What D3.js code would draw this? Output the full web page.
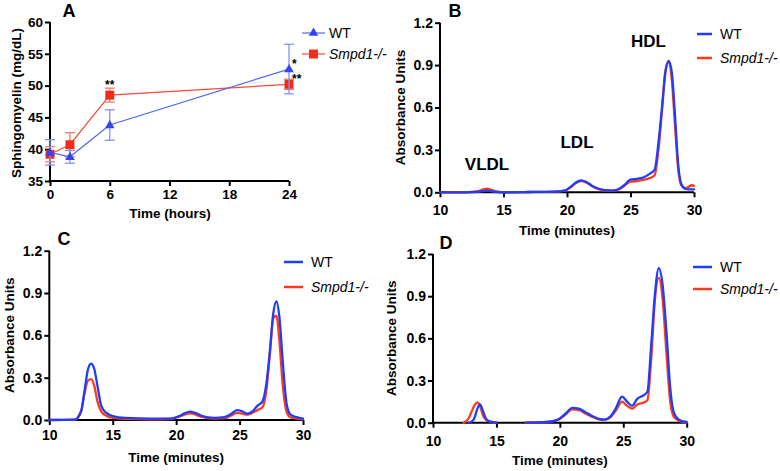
<!DOCTYPE html>
<html><head><meta charset="utf-8">
<script src="https://cdn.jsdelivr.net/npm/d3@7"></script>
<style>
body{margin:0;background:#fff;}
svg{display:block;font-family:"Liberation Sans",Arial,Helvetica,sans-serif;}
</style></head><body>
<svg id="c" width="780" height="471"></svg>
<script>
// ---------- Panel A data ----------
const aTimes = [0, 2, 6, 24];
const aWT = [39.5, 38.8, 43.8, 52.6];
const aWTerr = [2.0, 1.0, 2.4, 3.9];
const aKO = [39.2, 40.7, 48.5, 50.2];
const aKOerr = [1.2, 1.9, 1.1, 0.8];
const aXTicks = [0, 6, 12, 18, 24];
const aYTicks = [35, 40, 45, 50, 55, 60];
const sigTimes = [6, 24, 24];
const sigSeries = ["KO", "WT", "KO"];
const sigLabels = ["**", "*", "**"];

// ---------- Chromatogram data ----------
const chromXTicks = [10, 15, 20, 25, 30];
const chromYTicks = [0, 0.3, 0.6, 0.9, 1.2];

const bTimes = [10, 12, 13, 13.4, 13.7, 14, 14.5, 15, 17, 19, 19.8, 20.3, 20.7, 21.1, 21.5, 22, 22.5, 23, 23.5, 24, 24.5, 25, 25.5, 26, 26.5, 26.9, 27.2, 27.5, 27.75, 28, 28.25, 28.5, 28.75, 29, 29.3, 29.6, 29.8, 30];
const bWT = [0, 0, 0.003, 0.008, 0.012, 0.008, 0.002, 0, 0.002, 0.005, 0.012, 0.04, 0.07, 0.085, 0.075, 0.045, 0.025, 0.015, 0.012, 0.02, 0.05, 0.09, 0.095, 0.105, 0.13, 0.16, 0.35, 0.62, 0.85, 0.93, 0.85, 0.55, 0.2, 0.06, 0.025, 0.02, 0.02, 0.02];
const bKO = [0, 0, 0.008, 0.02, 0.025, 0.018, 0.005, 0, 0.002, 0.005, 0.012, 0.035, 0.065, 0.08, 0.07, 0.042, 0.022, 0.013, 0.012, 0.018, 0.045, 0.075, 0.08, 0.088, 0.1, 0.12, 0.3, 0.6, 0.86, 0.92, 0.8, 0.48, 0.17, 0.05, 0.03, 0.04, 0.05, 0.045];

const cTimes = [10, 12, 12.5, 12.8, 13.05, 13.3, 13.55, 13.8, 14.1, 14.5, 15, 16, 18, 19.5, 20.3, 20.7, 21.1, 21.5, 22, 23, 23.8, 24.3, 24.8, 25.2, 25.6, 26, 26.4, 26.8, 27.1, 27.4, 27.65, 27.9, 28.15, 28.4, 28.7, 29, 29.5, 30];
const cWT = [0, 0.002, 0.06, 0.22, 0.36, 0.40, 0.36, 0.24, 0.1, 0.05, 0.028, 0.015, 0.01, 0.01, 0.03, 0.05, 0.06, 0.05, 0.03, 0.015, 0.02, 0.04, 0.07, 0.062, 0.045, 0.06, 0.1, 0.13, 0.25, 0.5, 0.75, 0.84, 0.72, 0.42, 0.12, 0.04, 0.02, 0.01];
const cKO = [0, 0.002, 0.06, 0.2, 0.28, 0.29, 0.24, 0.13, 0.06, 0.03, 0.015, 0.008, 0.005, 0.007, 0.025, 0.04, 0.048, 0.04, 0.022, 0.01, 0.013, 0.03, 0.05, 0.045, 0.038, 0.05, 0.07, 0.09, 0.2, 0.48, 0.72, 0.74, 0.55, 0.25, 0.06, 0.02, 0.01, 0.005];

const dTimes = [10, 12.4, 12.8, 13.0, 13.25, 13.5, 13.7, 13.95, 14.2, 14.5, 15, 16, 17.3, 19, 19.8, 20.4, 21.0, 21.5, 22, 22.5, 23, 23.5, 24, 24.4, 24.9, 25.3, 25.7, 26.1, 26.5, 26.9, 27.2, 27.5, 27.8, 28.1, 28.4, 28.7, 29, 29.5, 30];
const dWT = [null, null, 0, 0.005, 0.03, 0.1, 0.13, 0.08, 0.025, 0.008, 0, null, 0, 0.005, 0.02, 0.06, 0.105, 0.1, 0.075, 0.05, 0.03, 0.022, 0.045, 0.1, 0.185, 0.15, 0.12, 0.17, 0.19, 0.22, 0.55, 0.92, 1.1, 0.98, 0.65, 0.25, 0.07, 0.015, 0.005];
const dKO = [null, 0, 0.03, 0.07, 0.12, 0.145, 0.12, 0.05, 0.02, 0.008, 0, null, 0, 0.005, 0.018, 0.055, 0.095, 0.09, 0.065, 0.043, 0.026, 0.02, 0.04, 0.085, 0.15, 0.12, 0.1, 0.13, 0.14, 0.16, 0.45, 0.88, 1.03, 0.88, 0.5, 0.15, 0.04, 0.01, 0];

const seriesNames = ["WT", "Smpd1-/-"];
const peakLabels = ["VLDL", "LDL", "HDL"];

// ---------- drawing ----------
const svg = d3.select("#c");
const BLUE = "#1f3dff", RED = "#ff3a1c";
const FONT = '"Liberation Sans",Arial,Helvetica,sans-serif';

function styleAxis(g, fs) {
  g.select(".domain").attr("stroke", "#000").attr("stroke-width", 2);
  g.selectAll(".tick line").attr("stroke", "#000").attr("stroke-width", 2);
  g.selectAll(".tick text").attr("fill", "#000").style("font-size", fs + "px").style("font-weight", "bold").style("font-family", FONT);
}

function drawAxes(x, y, xticks, yticks, yfmt, xpad, fs) {
  const g = svg.append("g");
  const x0 = x.range()[0], y0 = y.range()[0];
  const gx = g.append("g").attr("transform", `translate(0,${y0})`)
    .call(d3.axisBottom(x).tickValues(xticks).tickSize(5).tickSizeOuter(0).tickPadding(xpad));
  styleAxis(gx, fs);
  const gy = g.append("g").attr("transform", `translate(${x0},0)`)
    .call(d3.axisLeft(y).tickValues(yticks).tickFormat(yfmt).tickSize(5).tickSizeOuter(0).tickPadding(2));
  styleAxis(gy, fs);
  gx.select(".domain").attr("d", `M${x.range()[0]-1},0H${x.range()[1]}`);
  gy.select(".domain").attr("d", `M0,${y.range()[0]+1}V${y.range()[1]}`);
}

function text(x, y, s, opts = {}) {
  const t = svg.append("text").attr("x", x).attr("y", y).text(s)
    .attr("fill", "#000")
    .style("font-family", FONT)
    .style("font-size", (opts.size || 13) + "px")
    .style("font-weight", opts.weight || "bold")
    .style("font-style", opts.italic ? "italic" : "normal")
    .attr("text-anchor", opts.anchor || "middle");
  if (opts.rotate) t.attr("transform", `rotate(-90,${x},${y})`);
  return t;
}

// ---------- Panel A ----------
(function () {
  const x = d3.scaleLinear().domain([0, 24]).range([50, 289]);
  const y = d3.scaleLinear().domain([35, 60]).range([181, 22]);
  drawAxes(x, y, aXTicks, aYTicks, d3.format("d"), 3, 13.5);
  text(170, 218, "Time (hours)", { size: 13.5 });
  text(21, 103, "Sphingomyelin (mg/dL)", { rotate: true, size: 13.5 });
  text(69, 17, "A", { size: 18 });

  const series = [
    { key: "KO", vals: aKO, err: aKOerr, line: "#f24a36", bar: "#f47a6a", fill: "#f22b18", sym: d3.symbolSquare, size: 80 },
    { key: "WT", vals: aWT, err: aWTerr, line: "#5566f2", bar: "#8492f6", fill: "#3344f0", sym: d3.symbolTriangle, size: 40 }
  ];
  series.forEach(s => {
    const pts = aTimes.map((t, i) => ({ t, v: s.vals[i], e: s.err[i] }));
    const g = svg.append("g");
    g.append("path").datum(pts)
      .attr("d", d3.line().x(d => x(d.t)).y(d => y(d.v)))
      .attr("fill", "none").attr("stroke", s.line).attr("stroke-width", 1.2);
    pts.forEach(d => {
      g.append("line").attr("x1", x(d.t)).attr("x2", x(d.t)).attr("y1", y(d.v - d.e)).attr("y2", y(d.v + d.e))
        .attr("stroke", s.bar).attr("stroke-width", 1.3);
      [d.v - d.e, d.v + d.e].forEach(v => g.append("line").attr("x1", x(d.t) - 5).attr("x2", x(d.t) + 5)
        .attr("y1", y(v)).attr("y2", y(v)).attr("stroke", s.bar).attr("stroke-width", 1.3));
    });
    s.pts = pts; s.g = g;
  });
  series.forEach(s => {
    s.g.selectAll("path.m").data(s.pts).enter().append("path").attr("class", "m")
      .attr("d", d3.symbol().type(s.sym).size(s.size))
      .attr("transform", d => `translate(${x(d.t)},${y(d.v) + (s.key === "WT" ? 0.5 : 0)})`)
      .attr("fill", s.fill);
  });
  sigTimes.forEach((t, i) => {
    const s = series.find(q => q.key === sigSeries[i]);
    const idx = aTimes.indexOf(t);
    if (t === 24) {
      text(x(t) + 3, y(s.vals[idx]) - 1.5, sigLabels[i], { size: 12, anchor: "start" });
    } else {
      text(x(t), y(s.vals[idx] + s.err[idx]) + 1, sigLabels[i], { size: 12 });
    }
  });
  const lg = [
    { y: 33, col: "#5566f2", fill: "#3344f0", sym: d3.symbolTriangle, size: 40, name: seriesNames[0], it: false },
    { y: 54, col: "#f24a36", fill: "#f22b18", sym: d3.symbolSquare, size: 80, name: seriesNames[1], it: true }
  ];
  lg.forEach(l => {
    svg.append("line").attr("x1", 302).attr("x2", 325).attr("y1", l.y).attr("y2", l.y).attr("stroke", l.col).attr("stroke-width", 1.2);
    svg.append("path").attr("d", d3.symbol().type(l.sym).size(l.size)).attr("transform", `translate(313.5,${l.y})`).attr("fill", l.fill);
    text(329, l.y + 5, l.name, { size: 14, weight: "normal", italic: l.it, anchor: "start" });
  });
})();

// ---------- chromatogram panels ----------
function chrom(cfg) {
  const x = d3.scaleLinear().domain([10, 30]).range(cfg.xr);
  const y = d3.scaleLinear().domain([0, 1.2]).range(cfg.yr);
  drawAxes(x, y, chromXTicks, chromYTicks, d3.format(".1f"), cfg.xpad, 14);
  const line = d3.line().defined(d => d.v != null).x(d => x(d.t)).y(d => y(d.v)).curve(d3.curveMonotoneX);
  [[cfg.ko, RED], [cfg.wt, BLUE]].forEach(([vals, col]) => {
    const pts = cfg.times.map((t, i) => ({ t, v: vals[i] }));
    svg.append("path").datum(pts).attr("d", line).attr("fill", "none")
      .attr("stroke", col).attr("stroke-width", 2.3).attr("stroke-linejoin", "round").attr("stroke-linecap", "round");
  });
  const xm = (cfg.xr[0] + cfg.xr[1]) / 2, ym = (cfg.yr[0] + cfg.yr[1]) / 2;
  text(xm, cfg.titleY, "Time (minutes)", { size: 13.5 });
  text(cfg.yTitleX, ym, "Absorbance Units", { rotate: true, size: 13.5 });
  text(cfg.letter[1], cfg.letter[2], cfg.letter[0], { size: 18 });
  [[BLUE, 0], [RED, 1]].forEach(([col, i]) => {
    const ly = cfg.leg[2] + i * cfg.leg[3];
    svg.append("line").attr("x1", cfg.leg[0]).attr("x2", cfg.leg[1]).attr("y1", ly).attr("y2", ly).attr("stroke", col).attr("stroke-width", 2.5);
    text(cfg.leg[1] + 8, ly + 5, seriesNames[i], { size: 14, weight: "normal", italic: i === 1, anchor: "start" });
  });
}

chrom({ xr: [440, 694], yr: [192.3, 22.7], times: bTimes, wt: bWT, ko: bKO, xpad: 7.5,
  titleY: 235, yTitleX: 405, letter: ["B", 455, 17], leg: [697, 712, 34, 24] });
chrom({ xr: [49.3, 303], yr: [420, 250.7], times: cTimes, wt: cWT, ko: cKO, xpad: 5.5,
  titleY: 462, yTitleX: 14, letter: ["C", 64, 245], leg: [284, 303, 262, 25] });
chrom({ xr: [433, 686.7], yr: [422.7, 254], times: dTimes, wt: dWT, ko: dKO, xpad: 8,
  titleY: 465, yTitleX: 396, letter: ["D", 446, 249], leg: [693, 712, 267, 22] });

(function () {
  const pos = [[487, 170], [577, 148], [648.5, 47]];
  peakLabels.forEach((l, i) => text(pos[i][0], pos[i][1], l, { size: 17 }));
})();
</script>
</body></html>
